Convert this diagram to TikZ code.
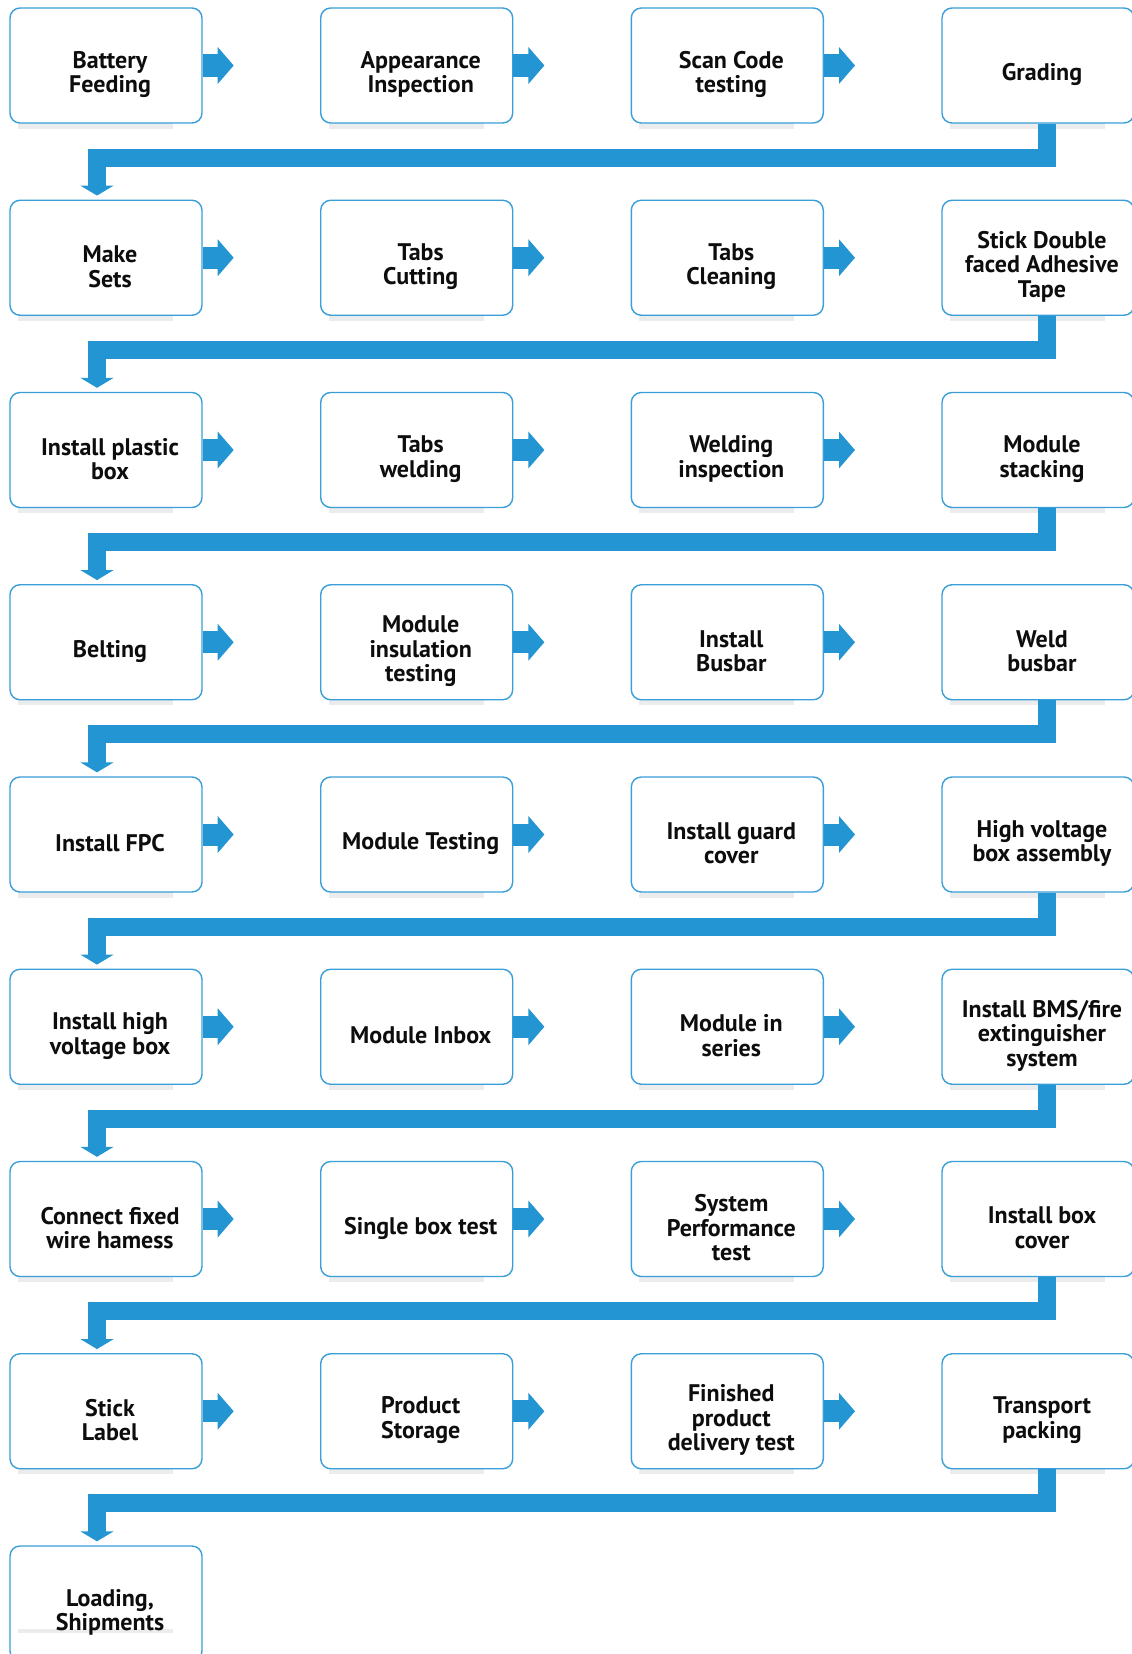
\documentclass[tikz,border=0pt]{standalone}
\usepackage{fontspec}
\setmainfont{PT Sans}
\usetikzlibrary{arrows.meta}
\definecolor{flowblue}{RGB}{34,149,210}
\definecolor{edgeblue}{RGB}{58,158,216}
\definecolor{shadowgray}{RGB}{234,236,238}
\tikzset{
  box/.style={draw=edgeblue, line width=1.4pt, fill=white, rounded corners=10pt,
    minimum width=192pt, minimum height=115pt, inner sep=0pt},
  lbl/.style={align=center, font=\fontsize{24}{24.5}\selectfont\bfseries, text=black!95, inner sep=0pt},
  fwd/.style={draw=flowblue, line width=22pt, -{Triangle[width=36pt,length=16pt]}},
  turn/.style={draw=flowblue, line width=18pt, miter limit=10, -{Triangle[width=33pt,length=10pt]}}
}
\newcommand{\stepnode}[4]{% name, x, y, text
  \fill[shadowgray] (#2-88,#3+57.5) rectangle (#2+67,#3+63);
  \node[box] (#1) at (#2,#3) {};
  \node[lbl] (#1t) at (#2+4,#3+9) {#4};
}
\begin{document}
\begin{tikzpicture}[x=1pt,y=-1pt]
\useasboundingbox (0,0) rectangle (1132,1654);
\def\cA{106}\def\cB{416.7}\def\cC{727.3}\def\cD{1038}
\def\rowpitch{192.25}
\foreach \ta/\tb/\tc/\td [count=\i from 0] in {
  {Battery\\Feeding}/{Appearance\\Inspection}/{Scan Code\\testing}/{Grading},
  {Make\\Sets}/{Tabs\\Cutting}/{Tabs\\Cleaning}/{Stick Double\\faced Adhesive\\Tape},
  {Install plastic\\box}/{Tabs\\welding}/{Welding\\inspection}/{Module\\stacking},
  {Belting}/{Module\\insulation\\testing}/{Install\\Busbar}/{Weld\\busbar},
  {Install FPC}/{Module Testing}/{Install guard\\cover}/{High voltage\\box assembly},
  {Install high\\voltage box}/{Module Inbox}/{Module in\\series}/{Install BMS/fire\\extinguisher\\system},
  {Connect fixed\\wire hamess}/{Single box test}/{System\\Performance\\test}/{Install box\\cover},
  {Stick\\Label}/{Product\\Storage}/{Finished\\product\\delivery test}/{Transport\\packing}}
{
  \pgfmathsetmacro{\yy}{65.5+\i*\rowpitch}
  \stepnode{n\i-a}{\cA}{\yy}{\ta}
  \stepnode{n\i-b}{\cB}{\yy}{\tb}
  \stepnode{n\i-c}{\cC}{\yy}{\tc}
  \stepnode{n\i-d}{\cD}{\yy}{\td}
  \draw[fwd] (n\i-a.east) -- ++(31,0);
  \draw[fwd] (n\i-b.east) -- ++(31,0);
  \draw[fwd] (n\i-c.east) -- ++(31,0);
}
\pgfmathsetmacro{\yl}{65.5+8*\rowpitch}
\node[box] (n8-a) at (\cA,\yl) {};
\fill[shadowgray] (18,1629) rectangle (173,1633);
\node[lbl] (n8-at) at (\cA+4,\yl+9) {Loading,\\Shipments};
\foreach \i [evaluate=\i as \j using int(\i+1)] in {0,...,7}{
  \draw[turn] ([xshift=9pt]n\i-d.south) -- ++(0,34) -| ([xshift=-9pt,yshift=4pt]n\j-a.north);
}
\end{tikzpicture}
\end{document}
